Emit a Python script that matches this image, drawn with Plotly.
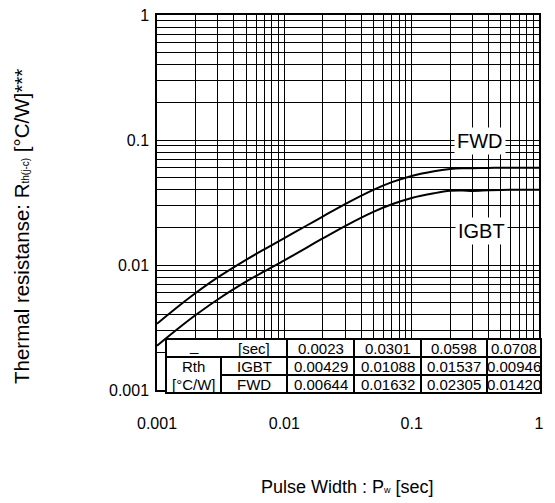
import numpy as np
import plotly.graph_objects as go

# ---------------- data ----------------
pulse_width = [0.001, 0.0015, 0.002, 0.003, 0.005, 0.007, 0.01, 0.015, 0.02, 0.03,
               0.05, 0.07, 0.1, 0.15, 0.2, 0.25, 0.3, 0.4, 0.5, 0.7, 1.0]
zth_igbt = [0.00226, 0.00316, 0.00396, 0.00530, 0.00735, 0.00893, 0.0109, 0.0138, 0.0163, 0.0205,
            0.0266, 0.0306, 0.0344, 0.0375, 0.0392, 0.0394, 0.0391, 0.0396, 0.0399, 0.0400, 0.0400]
zth_fwd = [0.00339, 0.00474, 0.00594, 0.00795, 0.0110, 0.0134, 0.0164, 0.0207, 0.0244, 0.0307,
           0.0399, 0.0460, 0.0516, 0.0563, 0.0586, 0.0594, 0.0595, 0.0598, 0.0600, 0.0600, 0.0600]

tick_vals = [0.001, 0.01, 0.1, 1]
tick_text = ["0.001", "0.01", "0.1", "1"]

table_tau = ["0.0023", "0.0301", "0.0598", "0.0708"]
table_igbt = ["0.00429", "0.01088", "0.01537", "0.00946"]
table_fwd = ["0.00644", "0.01632", "0.02305", "0.01420"]

# ---------------- geometry (layout only) ----------------
# the page body adds an 8px margin, so the figure is made 8px smaller
OFF = 8
W, H = 555 - OFF, 503 - OFF
X0, X1, Y0, Y1 = 157, 539, 15, 390          # plot area in window pixels
ML, MT = X0 - OFF, Y0 - OFF
MR, MB = (W + OFF) - X1, (H + OFF) - Y1


def px(x):
    return (x - X0) / (X1 - X0)


def py(y):
    return (Y1 - y) / (Y1 - Y0)


FONT = "Liberation Sans, Arial, sans-serif"

fig = go.Figure()
fig.add_trace(go.Scatter(x=pulse_width, y=zth_fwd, mode="lines", line=dict(color="black", width=2, shape="spline"),
                         showlegend=False, hoverinfo="skip"))
fig.add_trace(go.Scatter(x=pulse_width, y=zth_igbt, mode="lines", line=dict(color="black", width=2, shape="spline"),
                         showlegend=False, hoverinfo="skip"))

axis_common = dict(
    type="log", showgrid=True, gridcolor="black", gridwidth=1,
    minor=dict(dtick="D1", showgrid=True, gridcolor="black", gridwidth=1, ticks=""),
    showline=True, linecolor="black", linewidth=1.5, mirror=True, ticks="",
    tickvals=tick_vals, ticktext=tick_text, tickfont=dict(family=FONT, size=16, color="black"),
    zeroline=False, automargin=False, ticklabeloverflow="allow",
)
fig.update_xaxes(range=[-3, 0], ticklabelstandoff=18, **axis_common)
fig.update_yaxes(range=[-3, 0], ticklabelstandoff=3, **axis_common)

# ---------------- table drawn with shapes ----------------
tx0, tx1 = 166, 541
ty = [339, 357, 375, 393]
cols = [166, 221, 287, 354, 421, 487, 541]
shapes = []
shapes.append(dict(type="rect", xref="paper", yref="paper", x0=px(tx0), x1=px(tx1), y0=py(ty[3]), y1=py(ty[0]),
                   fillcolor="white", line=dict(color="black", width=2), layer="above"))
shapes.append(dict(type="line", xref="paper", yref="paper", x0=px(tx0), x1=px(tx1), y0=py(ty[1]), y1=py(ty[1]),
                   line=dict(color="black", width=2), layer="above"))
shapes.append(dict(type="line", xref="paper", yref="paper", x0=px(cols[1]), x1=px(tx1), y0=py(ty[2]), y1=py(ty[2]),
                   line=dict(color="black", width=2), layer="above"))
shapes.append(dict(type="line", xref="paper", yref="paper", x0=px(cols[1]), x1=px(cols[1]), y0=py(ty[1]), y1=py(ty[3]),
                   line=dict(color="black", width=2), layer="above"))
for c in cols[2:6]:
    shapes.append(dict(type="line", xref="paper", yref="paper", x0=px(c), x1=px(c), y0=py(ty[0]), y1=py(ty[3]),
                       line=dict(color="black", width=2), layer="above"))

annotations = []
tfont = dict(family=FONT, size=15, color="black")
row_c = [(ty[i] + ty[i + 1]) / 2 for i in range(3)]
col_c = [(cols[i] + cols[i + 1]) / 2 for i in range(6)]


def cell(text, xc, yc):
    annotations.append(dict(text=text, xref="paper", yref="paper", x=px(xc), y=py(yc), showarrow=False,
                            xanchor="center", yanchor="middle", font=tfont))


cell("_", col_c[0], row_c[0] - 3)
cell("[sec]", col_c[1], row_c[0])
cell("Rth", col_c[0], row_c[1])
cell("[°C/W]", col_c[0], row_c[2])
cell("IGBT", col_c[1], row_c[1])
cell("FWD", col_c[1], row_c[2])
for i in range(4):
    cell(table_tau[i], col_c[2 + i], row_c[0])
    cell(table_igbt[i], col_c[2 + i], row_c[1])
    cell(table_fwd[i], col_c[2 + i], row_c[2])

# curve labels
for name, (xc, yc) in {"FWD": (480, 141), "IGBT": (481, 231)}.items():
    annotations.append(dict(text=name, xref="paper", yref="paper", x=px(xc), y=py(yc), showarrow=False,
                            xanchor="center", yanchor="middle", bgcolor="white", borderpad=2,
                            font=dict(family=FONT, size=20, color="black")))

# axis titles
annotations.append(dict(text="Thermal resistanse: R<span style='font-size:10px'>th(j-c)</span> [°C/W]***",
                        xref="paper", yref="paper", x=px(21), y=py(227), textangle=-90, showarrow=False,
                        xanchor="center", yanchor="middle", font=dict(family=FONT, size=20.5, color="black")))
annotations.append(dict(text="Pulse Width : P<span style='font-size:9px'>w</span> [sec]",
                        xref="paper", yref="paper", x=px(347), y=py(487), showarrow=False,
                        xanchor="center", yanchor="middle", font=dict(family=FONT, size=18, color="black")))

fig.update_layout(
    width=W, height=H, margin=dict(l=ML, r=MR, t=MT, b=MB),
    paper_bgcolor="white", plot_bgcolor="white",
    shapes=shapes, annotations=annotations, showlegend=False,
)

fig.write_html("out.html")
